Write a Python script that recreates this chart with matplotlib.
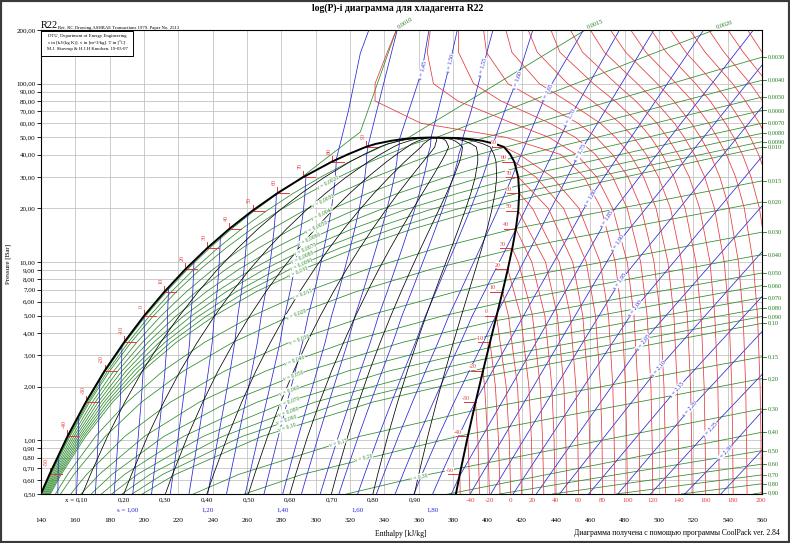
import numpy as np
import matplotlib
matplotlib.use("Agg")
import matplotlib.pyplot as plt
from matplotlib import transforms as mtr
from matplotlib.patches import Rectangle

plt.rcParams['font.family'] = ['Liberation Serif', 'DejaVu Serif']
plt.rcParams['axes.linewidth'] = 0.8

# ---------------- saturation table (R22) ----------------
SAT_T = [-55, -50, -40, -30, -20, -10, 0, 10, 20, 30, 40, 50, 60, 70, 80, 85, 90, 92, 94, 95, 95.8, 96.15]
SAT_P = [0.495, 0.645, 1.052, 1.639, 2.453, 3.548, 4.981, 6.809, 9.103, 11.92, 15.34, 19.42,
         24.26, 29.93, 36.52, 40.2, 44.17, 45.96, 47.83, 48.79, 49.57, 49.9]
SAT_HL = [139.7, 144.96, 155.41, 166.14, 177.04, 188.43, 200.0, 211.88, 224.08, 236.66, 249.69,
          263.25, 277.52, 292.76, 309.45, 318.9, 329.2, 335.0, 344.0, 350.0, 357.0, 367.0]
SAT_HV = [381.6, 383.95, 388.61, 393.14, 397.48, 401.56, 405.36, 408.84, 411.92, 414.53, 416.6,
          418.0, 418.56, 417.99, 415.67, 413.3, 409.66, 404.5, 397.0, 391.0, 383.0, 367.0]
SAT_SL = [0.7537, 0.7775, 0.8231, 0.8676, 0.9111, 0.9550, 1.0, 1.0416, 1.0834, 1.1250, 1.1666,
          1.2084, 1.2512, 1.2955, 1.3428, 1.3697, 1.3966, 1.4125, 1.4371, 1.4534, 1.4724, 1.4995]
SAT_SV = [1.8626, 1.8485, 1.8233, 1.8012, 1.7819, 1.7649, 1.7518, 1.7372, 1.7242, 1.7117, 1.6996,
          1.6873, 1.6746, 1.6604, 1.6436, 1.6336, 1.6182, 1.6028, 1.5815, 1.5648, 1.5429, 1.4995]
SAT_VL = [0.000691, 0.000697, 0.000711, 0.000725, 0.000741, 0.000760, 0.000780, 0.000802, 0.000826,
          0.000854, 0.000884, 0.000919, 0.000962, 0.001014, 0.001087, 0.00113, 0.00119, 0.00125,
          0.00134, 0.00143, 0.00160, 0.00191]
SAT_VV = [0.411, 0.3238, 0.2052, 0.1355, 0.0927, 0.0654, 0.0471, 0.0347, 0.0260, 0.0197, 0.0151,
          0.0117, 0.00906, 0.00700, 0.00537, 0.00466, 0.00396, 0.00360, 0.00316, 0.00285, 0.00243, 0.00191]

# ---------------- quality lines ----------------
QUALITY = [0.1, 0.2, 0.3, 0.4, 0.5, 0.6, 0.7, 0.8, 0.9]

# ---------------- isentropes ----------------
S_DOME = [0.80, 0.85, 0.90, 0.95, 1.00, 1.05, 1.10, 1.15, 1.20, 1.25, 1.30, 1.35, 1.40, 1.45,
          1.50, 1.55, 1.60, 1.65, 1.70, 1.75, 1.80, 1.85]
S_BOTTOM_LABELS = [1.00, 1.20, 1.40, 1.60, 1.80]
S_SUP = [1.35, 1.40, 1.45, 1.50, 1.55, 1.60, 1.65, 1.70, 1.75, 1.80, 1.85,
         1.90, 1.95, 2.00, 2.05, 2.10, 2.15, 2.20, 2.25, 2.30, 2.35]
S_SUP_H = [[319, 326, 331], [334.5, 347.5], [362, 366], [372, 378.2, 382.5],
           [390.5, 397.4, 403.3], [410, 417.2, 426.5], [434.7, 456], [448.1, 477],
           [453.9, 497], [459.7, 526], [469.6, 555],
           [390, 476, 560], [402, 477.2, 560], [415, 486, 560], [428.5, 490.6, 560],
           [442, 499.4, 560], [459, 510.4, 560], [476, 518, 560], [495, 529.6, 560],
           [515, 538.4, 560], [536, 560]]
S_SUP_P = [[70, 148, 200], [64, 200], [119, 200], [75, 130, 200],
           [70, 123.7, 200], [70, 104.5, 200], [89.4, 200], [64.6, 200],
           [41.1, 200], [22.8, 200], [17.4, 200],
           [0.5, 12.75, 127], [0.5, 7.78, 74], [0.5, 5.48, 39], [0.5, 3.56, 20.6],
           [0.5, 2.52, 11.4], [0.5, 1.94, 6.4], [0.5, 1.5, 4.07], [0.5, 1.152, 2.34],
           [0.5, 0.853, 1.45], [0.5, 0.88]]
S_LAB = [1.45, 1.50, 1.55, 1.60, 1.65, 1.70, 1.75, 1.80, 1.85, 1.90, 1.95, 2.00, 2.05, 2.10,
         2.15, 2.20, 2.25, 2.30]
S_LAB_H = [362, 378.2, 397.4, 417.2, 434.7, 448.1, 453.9, 459.7, 469.6, 476, 477.2, 486, 490.6,
           499.4, 510.4, 518, 529.6, 538.4]
S_LAB_P = [119, 130, 123.7, 104.5, 89.4, 64.6, 41.1, 22.8, 17.4, 12.75, 7.78, 5.48, 3.56, 2.52,
           1.94, 1.5, 1.152, 0.853]

# ---------------- isotherms (vapour / supercritical), h in kJ/kg ----------------
ISO_P = [0.5, 1, 2, 5, 10, 20, 30, 40, 50, 60, 80, 100, 150, 200]
ISO_T = [-50, -40, -30, -20, -10, 0, 10, 20, 30, 40, 50, 60, 70, 80, 90,
         100, 110, 120, 130, 140, 150, 160, 170, 180, 190, 200, 210, 220, 230, 240, 250, 260]
N = None
ISO_H = [
    [384.2, N, N, N, N, N, N, N, N, N, N, N, N, N],
    [389.9, 388.7, N, N, N, N, N, N, N, N, N, N, N, N],
    [395.5, 394.5, N, N, N, N, N, N, N, N, N, N, N, N],
    [401.2, 400.3, 398.4, N, N, N, N, N, N, N, N, N, N, N],
    [407.4, 406.5, 404.7, N, N, N, N, N, N, N, N, N, N, N],
    [413.6, 412.8, 411.0, N, N, N, N, N, N, N, N, N, N, N],
    [419.9, 419.1, 417.6, 412.3, N, N, N, N, N, N, N, N, N, N],
    [426.4, 425.7, 424.2, 419.4, N, N, N, N, N, N, N, N, N, N],
    [432.9, 432.2, 430.8, 426.3, 418.0, N, N, N, N, N, N, N, N, N],
    [439.5, 438.9, 437.6, 433.5, 425.9, N, N, N, N, N, N, N, N, N],
    [446.3, 445.7, 444.6, 440.8, 433.9, N, N, N, N, N, N, N, N, N],
    [453.2, 452.7, 451.6, 448.3, 441.9, 426.3, N, N, N, N, N, N, N, N],
    [460.1, 459.6, 458.7, 455.6, 449.7, 435.5, N, N, N, N, N, N, N, N],
    [467.2, 466.8, 465.9, 463.0, 457.6, 444.4, 428.1, N, N, N, N, N, N, N],
    [474.3, 473.9, 473.1, 470.6, 465.7, 453.4, 437.7, 418.7, N, N, N, N, N, N],
    [481.6, 481.2, 480.5, 478.4, 474.5, 466.3, 456.4, 442.9, 410.9, 361.3, 334.6, 334.6, 341.7, 347.0],
    [488.9, 488.5, 487.7, 485.4, 481.5, 473.0, 463.7, 452.0, 436.0, 414.7, 382.8, 368.6, 365.0, 366.8],
    [496.4, 496.0, 495.3, 493.1, 489.3, 481.5, 473.0, 463.0, 451.3, 436.4, 408.0, 392.0, 383.2, 383.2],
    [503.9, 503.6, 502.9, 500.8, 497.1, 489.7, 481.9, 473.0, 463.4, 452.8, 429.7, 412.0, 399.5, 397.8],
    [511.6, 511.3, 510.6, 508.7, 505.2, 498.3, 491.0, 483.2, 474.7, 465.8, 446.3, 430.3, 414.3, 410.8],
    [519.3, 519.0, 518.4, 516.5, 513.2, 506.7, 499.7, 492.6, 485.2, 477.4, 461.0, 446.8, 429.1, 423.8],
    [527.2, 526.9, 526.3, 524.5, 521.5, 515.2, 508.7, 501.9, 495.2, 488.4, 474.3, 461.8, 442.3, 437.0],
    [535.1, 534.8, 534.3, 532.5, 529.7, 523.7, 517.6, 511.2, 504.9, 498.8, 486.4, 475.0, 455.5, 448.4],
    [543.2, 542.9, 542.4, 540.8, 538.0, 532.3, 526.6, 520.7, 514.7, 509.0, 497.7, 487.4, 468.2, 460.0],
    [551.3, 551.0, 550.5, 549.0, 546.3, 540.9, 535.4, 529.9, 524.2, 518.9, 508.6, 499.0, 480.6, 471.7],
    [559.6, 559.4, 558.9, 557.4, 554.8, 549.7, 544.6, 539.3, 533.9, 529.0, 519.4, 510.1, 492.4, 483.5],
    [567.9, 567.7, 567.2, 565.8, 563.3, 558.5, 553.6, 548.6, 543.6, 538.7, 529.8, 521.3, 504.2, 495.4],
    [576.4, 576.2, 575.7, 574.4, 572.0, 567.4, 562.8, 558.0, 553.2, 548.6, 540.1, 532.3, 515.6, 506.7],
    [584.9, 584.7, 584.2, 583.0, 580.7, 576.2, 571.8, 567.4, 562.8, 558.5, 550.3, 542.9, 526.9, 518.0],
    [593.6, 593.4, 593.0, 591.7, 589.5, 585.2, 580.9, 576.7, 572.4, 568.1, 560.3, 553.2, 537.9, 529.0],
    [602.3, 602.1, 601.7, 600.5, 598.4, 594.2, 590.1, 586.0, 581.9, 577.8, 570.4, 563.6, 549.1, 540.2],
    [611.2, 611.0, 610.6, 609.5, 607.4, 603.5, 599.5, 595.6, 591.7, 587.8, 580.7, 574.3, 560.1, 551.6],
]
T_SAT_LABELS = [-50, -40, -30, -20, -10, 0, 10, 20, 30, 40, 50, 60, 70, 80, 90]
T_BOTTOM_LABELS = [-40, -20, 0, 20, 40, 60, 80, 100, 120, 140, 160, 180, 200]

# ---------------- isochores ----------------
V_RIGHT = [0.0030, 0.0040, 0.0050, 0.0060, 0.0070, 0.0080, 0.0090, 0.010, 0.015, 0.020, 0.030,
           0.040, 0.050, 0.060, 0.070, 0.080, 0.090, 0.10, 0.15, 0.20, 0.30, 0.40, 0.50, 0.60,
           0.70, 0.80, 0.90]
V_RIGHT_P = [140.8, 104.5, 84.1, 70.8, 60.0, 52.7, 47.3, 44.0, 28.5, 21.7, 14.7, 11.0, 8.67,
             7.38, 6.32, 5.50, 4.94, 4.53, 2.94, 2.22, 1.50, 1.11, 0.875, 0.735, 0.64, 0.571, 0.509]
V_BOTTOM = [0.50, 0.60, 0.70, 0.80, 0.90]
V_BOTTOM_H = [407, 438, 475, 513, 555]
V_TOP = [0.0010, 0.0015, 0.0020]
V_TOP_H = [[326, 347], [457], [532]]
V_TOP_P = [[53.6, 200], [200], [200]]
V_TOP_ROT = [32, 22, 18]
V_LAB = [0.0020, 0.0030, 0.0040, 0.0050, 0.0060, 0.0070, 0.0080, 0.0090, 0.010, 0.015, 0.020,
         0.030, 0.040, 0.050, 0.060, 0.070, 0.080, 0.090, 0.10, 0.15, 0.20, 0.30]
V_LAB_P = [27.8, 22.0, 18.6, 15.7, 13.4, 11.8, 10.6, 9.7, 8.85, 6.66, 5.13, 3.71, 2.82, 2.30,
           1.91, 1.66, 1.46, 1.30, 1.18, 0.975, 0.80, 0.626]

Y_TICKS = [0.5, 0.6, 0.7, 0.8, 0.9, 1, 2, 3, 4, 5, 6, 7, 8, 9, 10, 20, 30, 40, 50, 60, 70, 80, 90, 100, 200]
X_TICKS = list(range(140, 561, 20))

# ---------------- colours ----------------
C_RED = '#e4393a'
C_BLUE = '#2626d6'
C_GREEN = '#2a8a2a'
C_LGREEN = '#1f7a1f'

Tn = np.array(SAT_T, float)
Pn = np.array(SAT_P, float)
HL = np.array(SAT_HL); HV = np.array(SAT_HV)
SL = np.array(SAT_SL); SV = np.array(SAT_SV)
VL = np.array(SAT_VL); VV = np.array(SAT_VV)
lPn = np.log(Pn)


def comma(v, nd):
    return f"{v:.{nd}f}".replace('.', ',')


def vfmt(v):
    if v < 0.0099:
        return comma(v, 4)
    if v < 0.099:
        return comma(v, 3)
    return comma(v, 2)


def lerp(arr, i, f, log=False):
    a, b = arr[i], arr[i + 1]
    if log:
        return float(np.exp(np.log(a) + f * (np.log(b) - np.log(a))))
    return float(a + f * (b - a))


def frac(arr, i, q, log=False):
    a, b = arr[i], arr[i + 1]
    if log:
        return (np.log(q) - np.log(a)) / (np.log(b) - np.log(a))
    return (q - a) / (b - a)


def dome_curve(q, L, V, log=False):
    hs, ps = [], []
    n = len(Tn)
    inside = [(L[i] <= q <= V[i]) and (V[i] > L[i]) for i in range(n)]
    for i in range(n):
        if i > 0 and inside[i] and not inside[i - 1]:
            j = i - 1
            if q > V[j]:
                f = frac(V, j, q, log); hs.append(lerp(HV, j, f)); ps.append(lerp(Pn, j, f, True))
            else:
                f = frac(L, j, q, log); hs.append(lerp(HL, j, f)); ps.append(lerp(Pn, j, f, True))
        if inside[i]:
            x = (q - L[i]) / (V[i] - L[i])
            hs.append(HL[i] + x * (HV[i] - HL[i])); ps.append(Pn[i])
            if i + 1 < n and not inside[i + 1]:
                if q > V[i + 1]:
                    f = frac(V, i, q, log); hs.append(lerp(HV, i, f)); ps.append(lerp(Pn, i, f, True))
                else:
                    f = frac(L, i, q, log); hs.append(lerp(HL, i, f)); ps.append(lerp(Pn, i, f, True))
    return hs, ps


fig = plt.figure(figsize=(7.9, 5.43), dpi=100)
ax = fig.add_axes([41 / 790, 49 / 543, 721 / 790, 464 / 543])
ax.set_yscale('log')
ax.set_xlim(140, 560)
ax.set_ylim(0.5, 200)
ax.set_xticks(X_TICKS)
ax.set_xticklabels([str(v) for v in X_TICKS])
ax.set_yticks(Y_TICKS)
ax.set_yticklabels([comma(v, 2) for v in Y_TICKS])
ax.minorticks_off()
ax.tick_params(axis='x', length=0, pad=17.5, labelsize=5.3)
ax.tick_params(axis='y', length=3, width=0.6, pad=1, labelsize=5.0)
ax.grid(True, color='#c4c4c4', lw=0.6)
ax.set_axisbelow(True)


def angle(h1, p1, h2, p2):
    x1, y1 = ax.transData.transform((h1, p1))
    x2, y2 = ax.transData.transform((h2, p2))
    a = np.degrees(np.arctan2(y2 - y1, x2 - x1))
    if a > 90: a -= 180
    if a < -90: a += 180
    return a


LW = 0.55
BOX = dict(facecolor='white', edgecolor='none', pad=0.2)

# ---- isochores ----
for v, pr in zip(V_RIGHT, V_RIGHT_P):
    hs, ps = dome_curve(v, VL, VV, log=True)
    if hs:
        ax.plot(hs, ps, color=C_GREEN, lw=LW)
        start = (hs[-1], ps[-1])
    else:
        start = (V_BOTTOM_H[V_BOTTOM.index(v)], 0.5)
    ax.plot([start[0], 560], [start[1], pr], color=C_GREEN, lw=LW)
for v, th, tp, rot in zip(V_TOP, V_TOP_H, V_TOP_P, V_TOP_ROT):
    hs, ps = dome_curve(v, VL, VV, log=True)
    ax.plot(hs, ps, color=C_GREEN, lw=LW)
    ax.plot([hs[-1]] + th, [ps[-1]] + tp, color=C_GREEN, lw=LW)
    ax.text(th[-1] + 1.5, 203, vfmt(v), color=C_LGREEN, fontsize=4.5, rotation=rot,
            ha='left', va='bottom', rotation_mode='anchor', clip_on=False)

# right-edge isochore labels
rtrans = mtr.blended_transform_factory(ax.transAxes, ax.transData)
for v, pr in zip(V_RIGHT, V_RIGHT_P):
    ax.plot([1.0, 1.0055], [pr, pr], color=C_LGREEN, lw=0.6, transform=rtrans, clip_on=False)
    ax.text(1.0085, pr, vfmt(v), color=C_LGREEN, fontsize=4.5, transform=rtrans,
            ha='left', va='center', clip_on=False)

# dome isochore labels
for v, pl in zip(V_LAB, V_LAB_P):
    def hv_at(p):
        lp = np.log(p)
        hl = np.interp(lp, lPn, HL); hv = np.interp(lp, lPn, HV)
        vl = np.interp(lp, lPn, VL); vv = np.exp(np.interp(lp, lPn, np.log(VV)))
        x = (v - vl) / (vv - vl)
        return hl + x * (hv - hl)
    h0 = hv_at(pl)
    a = angle(hv_at(pl * 0.95), pl * 0.95, hv_at(pl * 1.05), pl * 1.05)
    ax.text(h0, pl, 'v = ' + vfmt(v), color=C_GREEN, fontsize=4.0, rotation=a,
            ha='center', va='center', rotation_mode='anchor', bbox=BOX, zorder=6)

# ---- isentropes ----
dome_s_end = {}
for s in S_DOME:
    hs, ps = dome_curve(s, SL, SV)
    ax.plot(hs, ps, color=C_BLUE, lw=LW)
    dome_s_end[s] = (hs[-1], ps[-1])
sup_lines = {}
for s, hh, pp in zip(S_SUP, S_SUP_H, S_SUP_P):
    if s in dome_s_end:
        hh = [dome_s_end[s][0]] + hh
        pp = [dome_s_end[s][1]] + pp
    ax.plot(hh, pp, color=C_BLUE, lw=LW)
    sup_lines[s] = (hh, pp)
for s, hl_, pl_ in zip(S_LAB, S_LAB_H, S_LAB_P):
    hh, pp = sup_lines[s]
    k = int(np.argmin([abs(h - hl_) + abs(np.log(p / pl_)) for h, p in zip(hh, pp)]))
    k0 = max(k - 1, 0); k1 = min(k + 1, len(hh) - 1)
    a = angle(hh[k0], pp[k0], hh[k1], pp[k1])
    ax.text(hl_, pl_, 's = ' + comma(s, 2), color=C_BLUE, fontsize=4.2, rotation=a,
            ha='center', va='center', rotation_mode='anchor', bbox=BOX, zorder=6)

# ---- isotherms ----
for T, row in zip(ISO_T, ISO_H):
    hh = [h for h in row if h is not None]
    pp = [p for p, h in zip(ISO_P, row) if h is not None]
    if T < SAT_T[-1]:
        hh.append(float(np.interp(T, Tn, HV)))
        pp.append(float(np.exp(np.interp(T, Tn, lPn))))
    ax.plot(hh, pp, color=C_RED, lw=0.55)

# saturated liquid / vapour stubs and labels
up = 10 ** (6 / 177.3)
for T in T_SAT_LABELS:
    i = SAT_T.index(T)
    hl, hv, p = HL[i], HV[i], Pn[i]
    ax.plot([hl, hl + 7], [p, p], color=C_RED, lw=0.7)
    ax.plot([hl, hl], [p, p * up], color=C_RED, lw=0.7)
    tl = mtr.offset_copy(ax.transData, fig=fig, x=-3, y=8, units='dots')
    ax.text(hl, p, str(T), color=C_RED, fontsize=4.3, rotation=90, ha='center',
            va='bottom', transform=tl, zorder=6)
    ax.plot([hv - 7, hv], [p, p], color=C_RED, lw=0.7)
    tv = mtr.offset_copy(ax.transData, fig=fig, x=-10, y=4, units='dots')
    ax.text(hv, p, str(T), color=C_RED, fontsize=4.3, ha='center', va='center',
            transform=tv, bbox=BOX, zorder=6)

# ---- quality lines ----
for x in QUALITY:
    ax.plot(HL + x * (HV - HL), Pn, color='black', lw=LW)

# ---- saturation curve ----
ax.plot(list(HL) + list(HV[::-1]), list(Pn) + list(Pn[::-1]), color='black', lw=1.4, zorder=5)

# ---- bottom label rows ----
btrans = mtr.blended_transform_factory(ax.transData, ax.transAxes)
h_l05 = float(np.interp(np.log(0.5), lPn, HL)); h_v05 = float(np.interp(np.log(0.5), lPn, HV))
s_l05 = float(np.interp(np.log(0.5), lPn, SL)); s_v05 = float(np.interp(np.log(0.5), lPn, SV))
y_row1 = -6 / 464
y_row2 = -16 / 464
for x in QUALITY:
    hx = h_l05 + x * (h_v05 - h_l05)
    ax.text(hx, y_row1, comma(x, 2), transform=btrans, fontsize=5, ha='center', va='center',
            clip_on=False)
ax.text(h_l05 + 0.1 * (h_v05 - h_l05) - 4.5, y_row1, 'x =', transform=btrans, fontsize=5,
        ha='right', va='center', clip_on=False)
for s in S_BOTTOM_LABELS:
    xq = (s - s_l05) / (s_v05 - s_l05)
    hs_ = h_l05 + xq * (h_v05 - h_l05)
    ax.text(hs_, y_row2, comma(s, 2), transform=btrans, fontsize=5, ha='center', va='center',
            color=C_BLUE, clip_on=False)
    if s == S_BOTTOM_LABELS[0]:
        ax.text(hs_ - 4.5, y_row2, 's =', transform=btrans, fontsize=5, ha='right',
                va='center', color=C_BLUE, clip_on=False)
for T in T_BOTTOM_LABELS:
    hb = ISO_H[ISO_T.index(T)][0]
    ax.text(hb, y_row1, str(T), transform=btrans, fontsize=5, ha='center', va='center',
            color=C_RED, clip_on=False)

# ---- texts ----
fig.text(398 / 790, 1 - 8 / 543, 'log(P)-i диаграмма для хладагента R22', ha='center',
         va='center', fontsize=7, fontweight='bold')
fig.text(41 / 790, 1 - 28.5 / 543, 'R22', ha='left', va='baseline', fontsize=7.5)
fig.text(58 / 790, 1 - 28.5 / 543, 'Ref. RC Drawing ASHRAE Transactions 1979. Paper No. 2513',
         ha='left', va='baseline', fontsize=3.4)
fig.patches.append(Rectangle((41 / 790, 1 - 55.5 / 543), 92 / 790, 24.5 / 543,
                             transform=fig.transFigure, facecolor='white', edgecolor='black',
                             lw=0.7, zorder=10))
for yy, t in [(36, 'DTU, Department of Energy Engineering'),
              (42.7, 's in [kJ/(kg K)]. v in [m^3/kg]. T in [ºC]'),
              (49.3, 'M.J. Skovrup & H.J.H Knudsen. 19-03-07')]:
    fig.text(87 / 790, 1 - yy / 543, t, ha='center', va='center', fontsize=3.4, zorder=11)
fig.text(8 / 790, 1 - 264 / 543, 'Pressure [Bar]', rotation=90, ha='center', va='center',
         fontsize=5)
fig.text(401 / 790, 1 - 534.5 / 543, 'Enthalpy [kJ/kg]', ha='center', va='center', fontsize=5.5)
fig.text(780 / 790, 1 - 533 / 543, 'Диаграмма получена с помощью программы CoolPack ver. 2.84',
         ha='right', va='center', fontsize=5.5)
fig.patches.append(Rectangle((0, 0), 1, 1, transform=fig.transFigure, fill=False,
                             edgecolor='#3a3a3a', lw=3))

fig.savefig('out.png', dpi=100)
